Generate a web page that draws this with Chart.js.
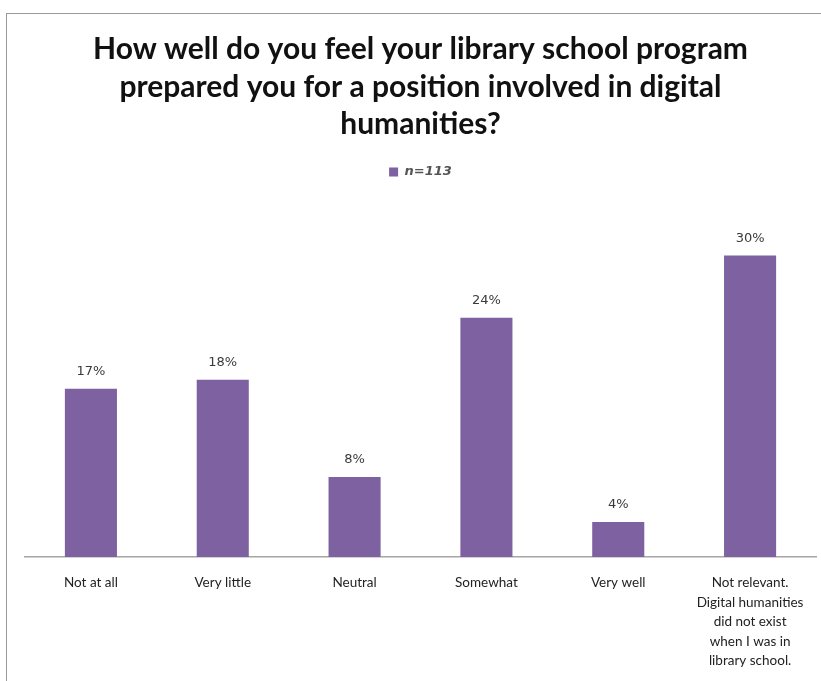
<!DOCTYPE html>
<html>
<head>
<meta charset="utf-8">
<script src="https://cdn.jsdelivr.net/npm/chart.js@4/dist/chart.umd.min.js"></script>
<style>
  html, body { margin: 0; padding: 0; background: #fff; }
  #wrap { position: relative; width: 821px; height: 681px; overflow: hidden; }
  #frame { position: absolute; left: 6px; top: 13px; width: 830px; height: 700px; border: 1px solid #9a9a9a; box-sizing: border-box; }
  canvas { position: absolute; left: 0; top: 0; }
</style>
</head>
<body>
<div id="wrap">
  <div id="frame"></div>
  <canvas id="c" width="821" height="681"></canvas>
</div>
<script>
const categories = [
  'Not at all',
  'Very little',
  'Neutral',
  'Somewhat',
  'Very well',
  ['Not relevant.', 'Digital humanities', 'did not exist', 'when I was in', 'library school.']
];
const seriesName = 'n=113';
const percentValues = [16.8, 17.7, 8.0, 23.9, 3.5, 30.1];
const valueLabels = ['17%', '18%', '8%', '24%', '4%', '30%'];
const titleLines = [
  'How well do you feel your library school program',
  'prepared you for a position involved in digital',
  'humanities?'
];

const barLabelPlugin = {
  id: 'barLabels',
  afterDatasetsDraw(chart) {
    const ctx = chart.ctx;
    const meta = chart.getDatasetMeta(0);
    ctx.save();
    ctx.font = '13px "DejaVu Sans"';
    ctx.fillStyle = '#3a3a3a';
    ctx.textAlign = 'center';
    ctx.textBaseline = 'middle';
    meta.data.forEach((bar, i) => {
      ctx.fillText(valueLabels[i], bar.x, bar.y - 17);
    });
    ctx.restore();
  }
};

new Chart(document.getElementById('c'), {
  type: 'bar',
  data: {
    labels: categories,
    datasets: [{
      label: seriesName,
      data: percentValues,
      backgroundColor: '#7d61a1',
      borderWidth: 0,
      categoryPercentage: 1.0,
      barPercentage: 0.395
    }]
  },
  options: {
    responsive: false,
    animation: false,
    events: [],
    layout: { padding: { left: 25, right: 5, top: 31, bottom: 0 } },
    plugins: {
      title: {
        display: true,
        text: titleLines,
        color: '#111',
        font: { family: 'Lato', size: 30, weight: 'bold', lineHeight: 1.25 },
        padding: { top: 0, bottom: 17 }
      },
      legend: {
        display: true,
        position: 'top',
        labels: {
          color: '#555',
          font: { family: 'DejaVu Sans', size: 13, style: 'italic', weight: 'bold' },
          boxWidth: 9,
          boxHeight: 9,
          padding: 5
        }
      },
      tooltip: { enabled: false }
    },
    scales: {
      x: {
        grid: { display: false, drawTicks: false },
        border: { display: true, color: '#a6a6a6', width: 1.5 },
        ticks: {
          color: '#222',
          font: { family: 'Lato', size: 13.5, lineHeight: 1.45 },
          padding: 16,
          maxRotation: 0,
          autoSkip: false
        },
        afterFit(scale) { scale.height = 124; }
      },
      y: {
        display: false,
        min: 0,
        max: 36.8
      }
    }
  },
  plugins: [barLabelPlugin]
});
</script>
</body>
</html>
